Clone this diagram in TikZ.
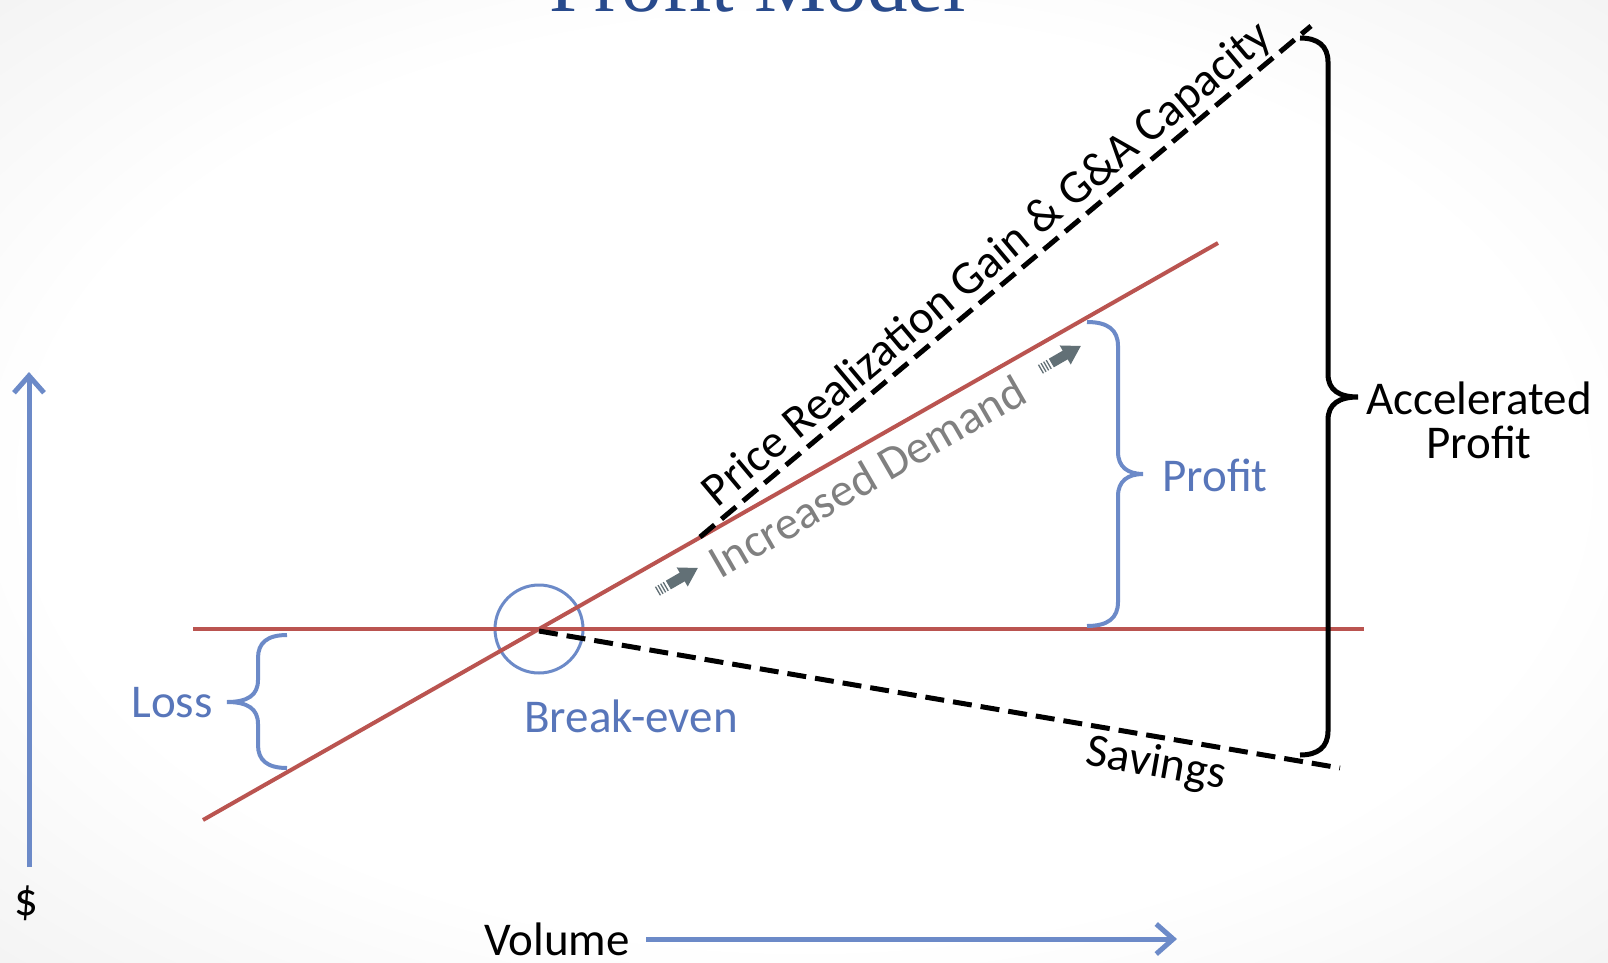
\documentclass[tikz,border=0pt]{standalone}
\usepackage{fontspec}
\setmainfont{Carlito}
\newfontfamily\titlefont{Liberation Serif}
\usetikzlibrary{arrows.meta}

\definecolor{chartred}{RGB}{186,84,80}
\definecolor{axisblue}{RGB}{108,138,200}
\definecolor{txtblue}{RGB}{88,118,186}
\definecolor{demandgray}{RGB}{128,128,128}
\definecolor{arrowgray}{RGB}{98,112,118}
\definecolor{titleblue}{RGB}{40,74,140}

\pgfdeclareradialshading{slidebg}{\pgfpointorigin}{color(0bp)=(white); color(24bp)=(white); color(58bp)=(black!13)}

\tikzset{
    %Define standard arrow tip
    >={Straight Barb[length=17pt,width=30pt]},
    % red cost / revenue lines
    costline/.style={
           draw=chartred,
           line width=4pt},
    % black dashed lines
    dashline/.style={
           draw=black,
           line width=5pt,
           dash pattern=on 19pt off 9pt},
    % axes
    axis/.style={
           ->,
           draw=axisblue,
           line width=5pt},
    bluebrace/.style={
           draw=axisblue,
           line width=4pt},
    blackbrace/.style={
           draw=black,
           line width=5pt},
    % text labels
    lbl/.style={
           font=\fontsize{47}{44}\selectfont,
           inner sep=0pt}
}

% small striped arrow
\newcommand{\demandarrow}[1]{%
  \begin{scope}[shift={(#1)}, rotate=30]
    \foreach \s in {-22,-19,-16,-13}
      \draw[arrowgray, line width=1.3pt] (\s,-5) -- (\s,5);
    \fill[arrowgray] (-10,-5) -- (6,-5) -- (6,-11) -- (24,0) -- (6,11) -- (6,5) -- (-10,5) -- cycle;
  \end{scope}}

\begin{document}
\begin{tikzpicture}[x=1pt, y=-1pt]

\useasboundingbox (0,0) rectangle (1608,963);
\shade[shading=slidebg] (0,0) rectangle (1608,963);

% title, cut off by the top edge
\node[anchor=base, inner sep=0pt, text=titleblue, font={\titlefont\fontsize{81}{90}\selectfont}] (title) at (758,12) {Profit Model};

%points of the chart
\coordinate (fc-start) at (193,629);
\coordinate (fc-end) at (1364,629);
\coordinate (rev-start) at (203,820);
\coordinate (rev-end) at (1218,243);
\coordinate (breakeven) at (539,629);
\coordinate (price-start) at (700,537);
\coordinate (price-end) at (1311,26);
\coordinate (sav-start) at (539,631);
\coordinate (sav-end) at (1340,768);

%break-even circle
\node[circle, draw=axisblue, line width=3pt, minimum size=88pt, inner sep=0pt] (bepoint) at (breakeven) {};

\draw[costline] (fc-start) -- (fc-end);
\draw[costline] (rev-start) -- (rev-end);
\draw[dashline] (price-start) -- (price-end);
\draw[dashline] (sav-start) -- (sav-end);

%axes
\node[lbl] (dollar) at (26,903) {\$};
\coordinate (dollar-foot) at (29,867);
\coordinate (dollar-tip) at (29,372);
\draw[axis] (dollar-foot) -- (dollar-tip);

\node[lbl] (volume) at (557,939) {Volume};
\coordinate (volume-tip) at (1177,939);
\draw[axis] ([xshift=16pt]volume.east) -- (volume-tip);

%braces
\draw[bluebrace] (287,635) .. controls (267,635) and (258,643) .. (258,658) -- (258,680)
  .. controls (258,695) and (248,702) .. (227,702)
  .. controls (248,702) and (258,709) .. (258,724) -- (258,745)
  .. controls (258,760) and (267,768) .. (287,768);
\draw[bluebrace] (1087,322) .. controls (1108,322) and (1118,330) .. (1118,346) -- (1118,452)
  .. controls (1118,467) and (1128,474) .. (1143,474)
  .. controls (1128,474) and (1118,481) .. (1118,496) -- (1118,602)
  .. controls (1118,618) and (1108,626) .. (1087,626);
\draw[blackbrace] (1300,38) .. controls (1318,38) and (1328,46) .. (1328,62) -- (1328,374)
  .. controls (1328,390) and (1339,397) .. (1358,397)
  .. controls (1339,397) and (1328,404) .. (1328,420) -- (1328,731)
  .. controls (1328,747) and (1318,755) .. (1300,755);

%labels
\node[lbl, text=txtblue] (loss) at (172,703) {Loss};
\node[lbl, text=txtblue] (breakevenlbl) at (631,716) {Break-even};
\node[lbl, text=txtblue] (profit) at (1215,475) {Profit};
\node[lbl, align=center] (accel) at (1479,420) {Accelerated\\Profit};
\node[lbl, rotate=-10] (savings) at (1156,765) {Savings};
\node[lbl, rotate=40] (pricelbl) at (988,265) {Price Realization Gain \& G\&A Capacity};
\node[lbl, rotate=30, text=demandgray] (demand) at (867,476) {Increased Demand};

\demandarrow{677,580}
\demandarrow{1060,358}

\end{tikzpicture}
\end{document}
